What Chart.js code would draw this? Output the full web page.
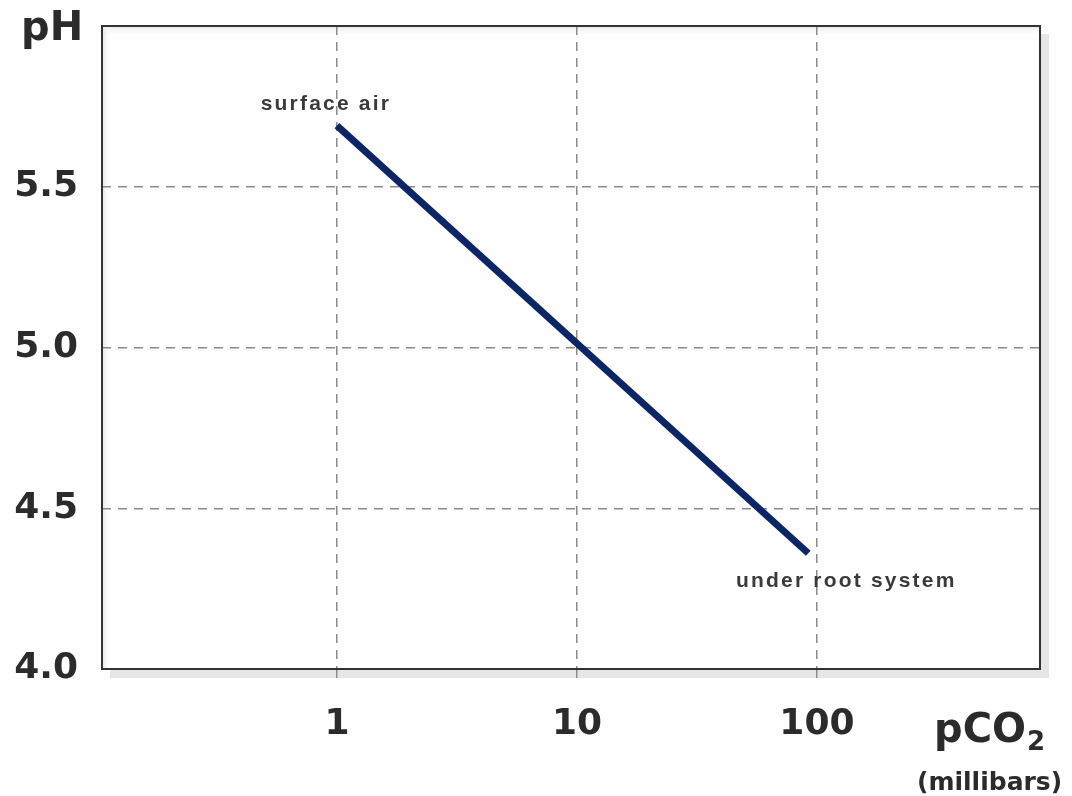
<!DOCTYPE html>
<html>
<head>
<meta charset="utf-8">
<style>
  html, body { margin: 0; padding: 0; background: #fff; }
  #wrap { width: 1072px; height: 796px; position: relative; }
</style>
<script src="https://cdn.jsdelivr.net/npm/chart.js@4.4.1/dist/chart.umd.min.js"></script>
</head>
<body>
<div id="wrap"><canvas id="phChart" width="1072" height="796"></canvas></div>
<script>
// data
var pco2 = [1, 92];          // millibars
var ph = [5.69, 4.36];
var pointLabels = ['surface air', 'under root system'];
var xTicks = [1, 10, 100];
var yTicks = [4.0, 4.5, 5.0, 5.5];

var gridDash = [9, 7];

// shadow + inner shading of the plot box, and the outer frame
var frame = {
  id: 'frame',
  beforeDraw: function (chart) {
    var c = chart.ctx, a = chart.chartArea;
    var w = a.right - a.left, h = a.bottom - a.top;
    c.save();
    c.fillStyle = '#e6e6e6';
    c.fillRect(a.left + 8, a.top + 8, w + 1, h + 1);
    c.fillStyle = '#ffffff';
    c.fillRect(a.left, a.top, w, h);
    var g = c.createLinearGradient(0, a.top, 0, a.top + 10);
    g.addColorStop(0, '#e4e4e4'); g.addColorStop(1, 'rgba(255,255,255,0)');
    c.fillStyle = g; c.fillRect(a.left, a.top, w, 10);
    g = c.createLinearGradient(a.left, 0, a.left + 10, 0);
    g.addColorStop(0, '#e4e4e4'); g.addColorStop(1, 'rgba(255,255,255,0)');
    c.fillStyle = g; c.fillRect(a.left, a.top, 10, h);
    c.restore();
  },
  afterDraw: function (chart) {
    var c = chart.ctx, a = chart.chartArea;
    c.save();
    c.strokeStyle = '#333';
    c.lineWidth = 2;
    c.strokeRect(a.left, a.top, a.right - a.left, a.bottom - a.top);

    // axis titles
    c.fillStyle = '#2b2b2b';
    c.textBaseline = 'alphabetic';
    c.textAlign = 'left';
    c.font = 'bold 40px "DejaVu Sans"';
    c.fillText('pH', 21, 40);
    c.fillText('pCO', 934, 742);
    var wp = c.measureText('pCO').width;
    c.font = 'bold 26px "DejaVu Sans"';
    c.fillText('2', 934 + wp + 1, 750);
    c.font = 'bold 25px "DejaVu Sans"';
    c.fillText('(millibars)', 917, 790);

    // point labels
    var xs = chart.scales.x, ys = chart.scales.y;
    c.font = 'bold 21px "Liberation Sans"';
    c.letterSpacing = '2.2px';
    c.fillStyle = '#3a3a3a';
    c.textAlign = 'center';
    c.textBaseline = 'middle';
    c.fillText(pointLabels[0], xs.getPixelForValue(pco2[0]) - 11, ys.getPixelForValue(ph[0]) - 21);
    c.fillText(pointLabels[1], xs.getPixelForValue(pco2[1]) + 38, ys.getPixelForValue(ph[1]) + 28);
    c.restore();
  }
};

new Chart(document.getElementById('phChart'), {
  type: 'line',
  data: {
    datasets: [{
      data: pco2.map(function (v, i) { return { x: v, y: ph[i] }; }),
      borderColor: '#0c2566',
      borderWidth: 7,
      borderCapStyle: 'butt',
      pointRadius: 0,
      fill: false
    }]
  },
  options: {
    responsive: false,
    animation: false,
    layout: { padding: { top: 26, right: 32, left: 0, bottom: 0 } },
    plugins: { legend: { display: false }, tooltip: { enabled: false } },
    scales: {
      x: {
        type: 'logarithmic',
        min: 0.105, max: 850,
        afterBuildTicks: function (s) { s.ticks = xTicks.map(function (v) { return { value: v }; }); },
        afterFit: function (s) { s.height = 127; s.paddingLeft = 0; s.paddingRight = 0; },
        grid: { color: '#8a8a8a', lineWidth: 1.5, drawTicks: true, tickLength: 14, tickBorderDash: gridDash, tickColor: '#8a8a8a' },
        border: { display: false, dash: gridDash },
        ticks: { color: '#2b2b2b', font: { family: 'DejaVu Sans', size: 36, weight: 'bold' }, padding: 20, maxRotation: 0,
          callback: function (v) { return String(v); } }
      },
      y: {
        type: 'linear',
        min: 4, max: 6,
        afterBuildTicks: function (s) { s.ticks = yTicks.map(function (v) { return { value: v }; }); },
        afterFit: function (s) { s.width = 102; s.paddingTop = 0; s.paddingBottom = 0; },
        grid: { color: '#8a8a8a', lineWidth: 1.5, drawTicks: false },
        border: { display: false, dash: gridDash },
        ticks: { color: '#2b2b2b', font: { family: 'DejaVu Sans', size: 36, weight: 'bold' }, padding: 24,
          callback: function (v) { return Number(v).toFixed(1); } }
      }
    }
  },
  plugins: [frame]
});
</script>
</body>
</html>
